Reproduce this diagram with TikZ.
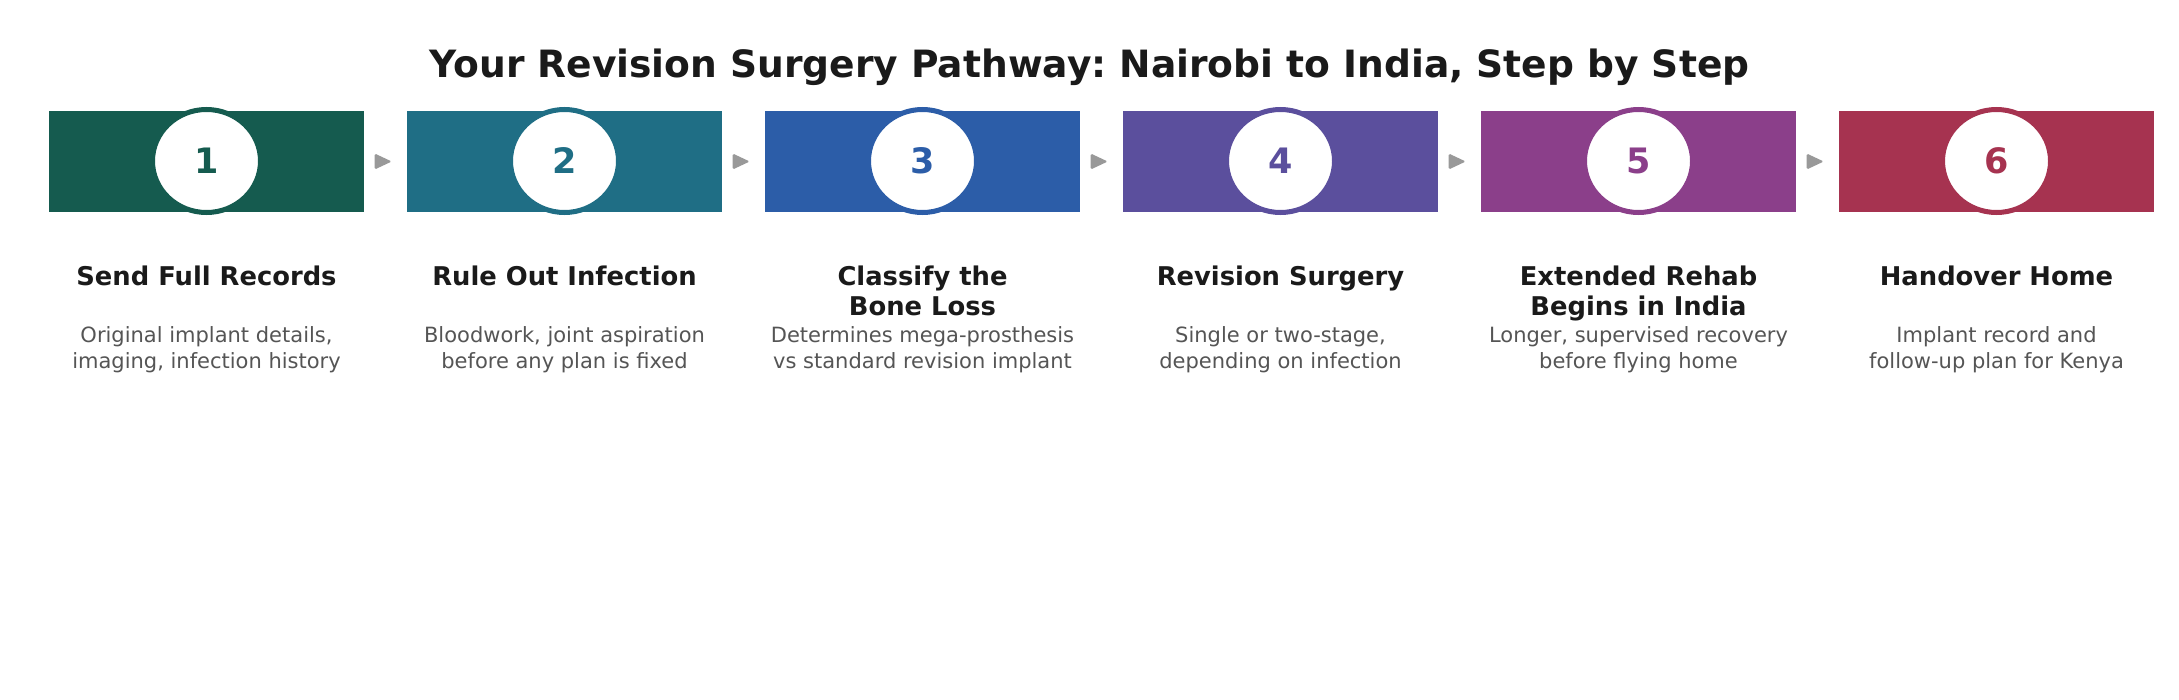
\documentclass[tikz,border=0pt]{standalone}
\usepackage{fontspec}
\setmainfont{DejaVu Sans}
\usetikzlibrary{shapes.geometric,calc}
\definecolor{cA}{HTML}{155B4F}
\definecolor{cB}{HTML}{1F6E85}
\definecolor{cC}{HTML}{2C5DA8}
\definecolor{cD}{HTML}{5B4F9D}
\definecolor{cE}{HTML}{8B3F8A}
\definecolor{cF}{HTML}{A63350}
\definecolor{headc}{HTML}{1A1A1A}
\definecolor{descc}{HTML}{555555}
\definecolor{arrowc}{HTML}{999999}
\frenchspacing
\begin{document}
\begin{tikzpicture}[x=1pt,y=-1pt,
  stepbox/.style={rectangle, minimum width=315pt, minimum height=101pt, inner sep=0pt, draw=none},
  badge/.style={ellipse, minimum width=108pt, minimum height=103pt, inner sep=0pt, fill=white, line width=5pt, font=\fontsize{35}{35}\selectfont\bfseries},
  headtxt/.style={anchor=base, font=\fontsize{25.8}{30}\selectfont\bfseries, text=headc, inner sep=0pt},
  desctxt/.style={anchor=base, font=\fontsize{21}{26}\selectfont, text=descc, inner sep=0pt},
  flowtip/.style={fill=arrowc, rounded corners=1.5pt}]
\useasboundingbox[fill=white] (0,0) rectangle (2179,699);
\node[anchor=base, font=\fontsize{37.6}{42}\selectfont\bfseries, text=headc, inner sep=0pt] (title) at (1089.5,77.5) {Your Revision Surgery Pathway: Nairobi to India, Step by Step};

\foreach \i/\cx/\col in {1/206.5/cA, 2/564.5/cB, 3/922.5/cC, 4/1280.5/cD, 5/1638.5/cE, 6/1996.5/cF}{
  \node[stepbox, fill=\col] (b\i) at (\cx,161.5) {};
  \node[badge, draw=\col, text=\col] (n\i) at (\cx,161) {\i};
}
\foreach \i in {1,...,5}{
  \fill[flowtip] ($(b\i.east)+(10.5,-8)$) -- ++(17,8) -- ++(-17,8) -- cycle;
}

% headings
\node[headtxt] (h1) at (206.5,285) {Send Full Records};
\node[headtxt] (h2) at (564.5,285) {Rule Out Infection};
\node[headtxt] (h3) at (922.5,285) {Classify the};
\node[headtxt] (h3b) at (922.5,315) {Bone Loss};
\node[headtxt] (h4) at (1280.5,285) {Revision Surgery};
\node[headtxt] (h5) at (1638.5,285) {Extended Rehab};
\node[headtxt] (h5b) at (1638.5,315) {Begins in India};
\node[headtxt] (h6) at (1996.5,285) {Handover Home};

% descriptions
\node[desctxt] (d1) at (206.5,342) {Original implant details,};
\node[desctxt] (d1b) at (206.5,368) {imaging, infection history};
\node[desctxt] (d2) at (564.5,342) {Bloodwork, joint aspiration};
\node[desctxt] (d2b) at (564.5,368) {before any plan is fixed};
\node[desctxt] (d3) at (922.5,342) {Determines mega-prosthesis};
\node[desctxt] (d3b) at (922.5,368) {vs standard revision implant};
\node[desctxt] (d4) at (1280.5,342) {Single or two-stage,};
\node[desctxt] (d4b) at (1280.5,368) {depending on infection};
\node[desctxt] (d5) at (1638.5,342) {Longer, supervised recovery};
\node[desctxt] (d5b) at (1638.5,368) {before flying home};
\node[desctxt] (d6) at (1996.5,342) {Implant record and};
\node[desctxt] (d6b) at (1996.5,368) {follow-up plan for Kenya};
\end{tikzpicture}
\end{document}
